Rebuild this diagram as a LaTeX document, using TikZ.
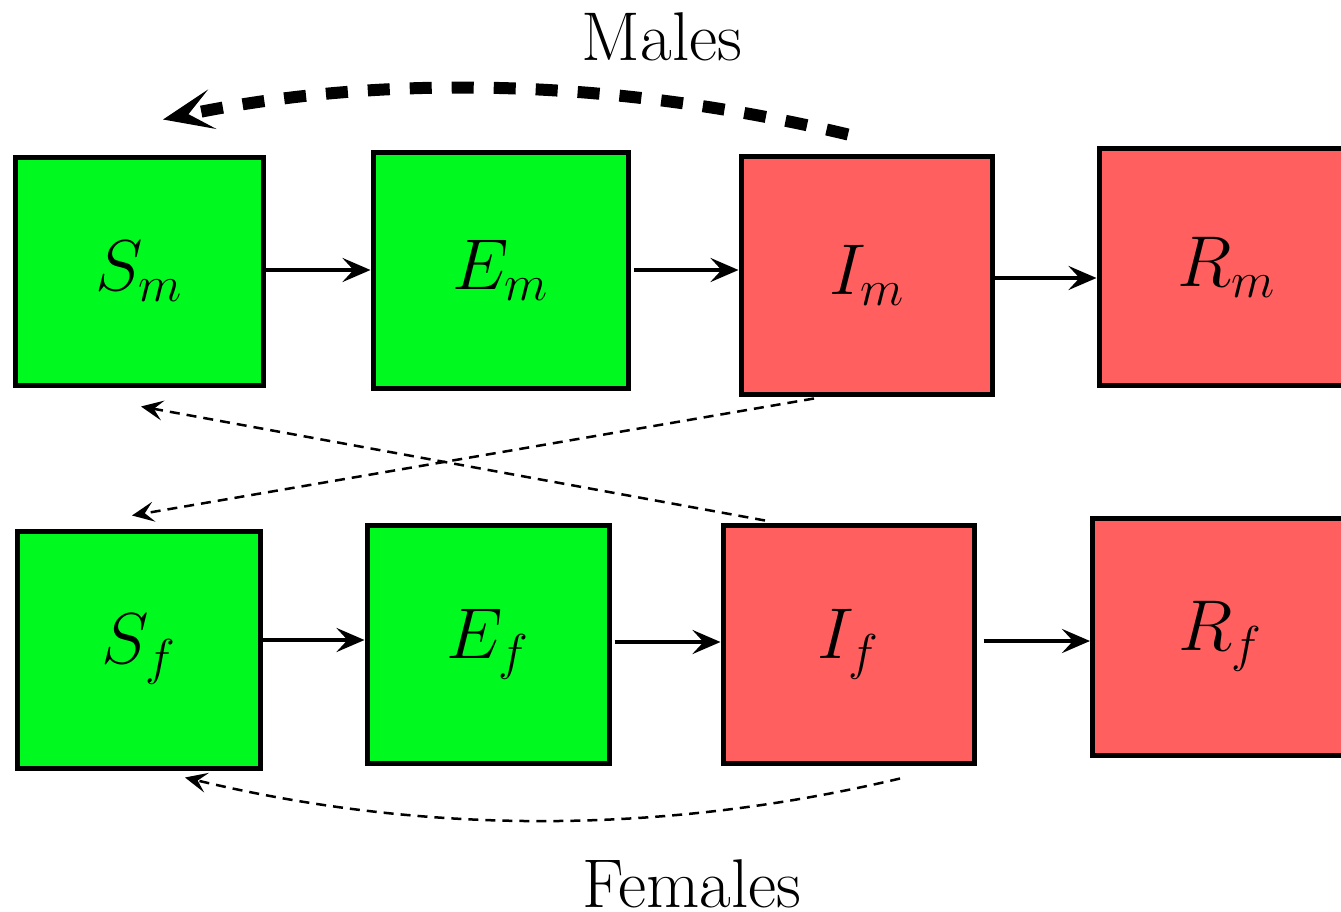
\RequirePackage{fix-cm}
\documentclass[tikz,border=0pt]{standalone}
\usetikzlibrary{arrows.meta,calc}
\definecolor{boxgreen}{RGB}{0,249,31}
\definecolor{boxred}{RGB}{255,95,95}
\tikzset{
  compartment/.style={draw=black, line width=5pt, inner sep=0pt,
    font=\fontsize{72}{84}\selectfont},
  sgreen/.style={compartment, fill=boxgreen},
  sred/.style={compartment, fill=boxred},
  flow/.style={line width=4.5pt, -{Stealth[length=28pt,width=24pt,inset=11pt]}},
  thinflow/.style={line width=2.5pt, dash pattern=on 10pt off 7pt,
    -{Stealth[length=22pt,width=20pt,inset=9pt]}},
  thickflow/.style={line width=12pt, dash pattern=on 22pt off 20pt,
    -{Stealth[length=50pt,width=40pt,inset=24pt]}},
  caption/.style={font=\fontsize{69}{80}\selectfont, inner sep=0pt}
}
\begin{document}
\begin{tikzpicture}[x=1pt,y=-1pt]
\useasboundingbox (0,0) rectangle (1341,912);

% males
\node[sgreen, minimum width=248pt, minimum height=227pt] (Sm) at (139,271.5) {$S_m$};
\node[sgreen, minimum width=255pt, minimum height=235pt] (Em) at (500.5,270.5) {$E_m$};
\node[sred,   minimum width=251pt, minimum height=237pt] (Im) at (866.5,275.5) {$I_m$};
\node[sred,   minimum width=254pt, minimum height=236pt] (Rm) at (1226,267) {$R_m$};

% females
\node[sgreen, minimum width=243pt, minimum height=237pt] (Sf) at (138.5,649.5) {$S_f$};
\node[sgreen, minimum width=242pt, minimum height=238pt] (Ef) at (488,644) {$E_f$};
\node[sred,   minimum width=251pt, minimum height=238pt] (If) at (848.5,644) {$I_f$};
\node[sred,   minimum width=255pt, minimum height=237pt] (Rf) at (1220,636.5) {$R_f$};

\node[caption] (males) at (662,37) {Males};
\node[caption] (females) at (692,884) {Females};

% progression within each sex
\draw[flow] ($(Sm.east)+(0,-1.5)$) -- ($(Em.west)+(0,-0.5)$);
\draw[flow] ($(Em.east)+(3,-0.5)$) -- ($(Im.west)+(0,-5.5)$);
\draw[flow] ($(Im.east)+(0,2.5)$) -- ($(Rm.west)+(0,11)$);
\draw[flow] ($(Sf.east)+(0,-9.5)$) -- ($(Ef.west)+(0,-4)$);
\draw[flow] ($(Ef.east)+(3,-2)$) -- ($(If.west)+(0,-2)$);
\draw[flow] ($(If.east)+(7,-3)$) -- ($(Rf.west)+(0,4.5)$);

% infection between compartments
\coordinate (mStart) at ($(Im.north)+(-18.5,-20)$);
\coordinate (mEnd)   at ($(Sm.north)+(24,-36)$);
\draw[thickflow] (mStart) .. controls (612.7,78.5) and (384.3,73.3) .. (mEnd);

\coordinate (xaStart) at ($(Im.south)+(-52.5,2)$);
\coordinate (xaEnd)   at ($(Sf.north)+(-6.5,-13)$);
\draw[thinflow] (xaStart) -- (xaEnd);

\coordinate (xbStart) at ($(If.north)+(-83.5,-2)$);
\coordinate (xbEnd)   at ($(Sm.south)+(2,19)$);
\draw[thinflow] (xbStart) -- (xbEnd);

\coordinate (fStart) at ($(If.south)+(51.5,13)$);
\coordinate (fEnd)   at ($(Sf.south)+(46.5,7)$);
\draw[thinflow] (fStart) .. controls (662,835) and (424,835) .. (fEnd);
\end{tikzpicture}
\end{document}
